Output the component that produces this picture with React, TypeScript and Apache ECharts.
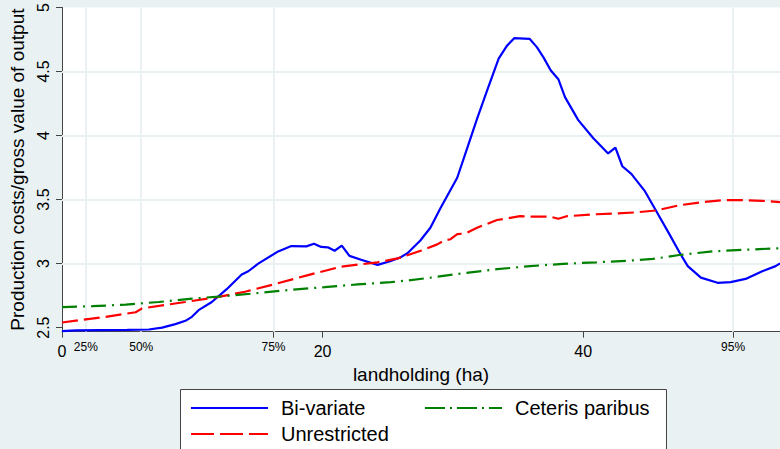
import React, { useEffect, useRef } from "react";
import * as echarts from "echarts";

// ---- data ----
const bivX = [0, 1.07, 3.0, 5.0, 6.66, 7.68, 8.7, 9.47, 9.97, 10.48, 11.5, 12.64, 13.79, 14.3, 15.06, 16.59, 17.6, 18.75, 19.34, 19.89, 20.4, 20.92, 21.47, 22.06, 22.95, 24.22, 25.24, 26.0, 26.51, 27.5, 28.27, 29.03, 30.33, 31.09, 31.85, 32.62, 33.51, 34.14, 34.7, 35.88, 36.44, 36.95, 37.5, 38.09, 38.6, 39.62, 40.76, 41.91, 42.47, 43.0, 43.69, 44.7, 45.6, 46.61, 47.37, 48.02, 49.03, 50.31, 51.31, 52.46, 53.74, 54.76, 55.1];
const bivY = [2.472, 2.478, 2.48, 2.482, 2.485, 2.5, 2.527, 2.553, 2.584, 2.636, 2.7, 2.8, 2.915, 2.94, 3.0, 3.095, 3.137, 3.134, 3.155, 3.13, 3.127, 3.1, 3.14, 3.06, 3.03, 2.99, 3.02, 3.05, 3.08, 3.18, 3.28, 3.43, 3.67, 3.9, 4.13, 4.35, 4.6, 4.7, 4.76, 4.755, 4.69, 4.61, 4.51, 4.44, 4.3, 4.12, 3.98, 3.86, 3.905, 3.76, 3.7, 3.57, 3.41, 3.23, 3.09, 2.98, 2.89, 2.85, 2.855, 2.88, 2.94, 2.98, 3.0];

const unrX = [0, 3.36, 5.65, 6.15, 9.47, 12.01, 14.05, 16.34, 18.88, 21.42, 24.22, 25.75, 27.53, 28.8, 29.31, 29.82, 30.33, 30.96, 31.85, 33.38, 35.16, 35.92, 37.45, 38.09, 38.73, 41.02, 42.29, 44.07, 45.6, 47.37, 49.16, 50.69, 52.21, 53.74, 55.1];
const unrY = [2.54, 2.584, 2.62, 2.65, 2.7, 2.74, 2.78, 2.84, 2.91, 2.976, 3.01, 3.04, 3.1, 3.15, 3.18, 3.19, 3.23, 3.235, 3.28, 3.34, 3.37, 3.367, 3.367, 3.35, 3.37, 3.385, 3.39, 3.4, 3.415, 3.455, 3.48, 3.495, 3.495, 3.49, 3.48];

const cetX = [0, 2.34, 4.89, 7.43, 9.97, 12.52, 15.06, 17.6, 20.15, 22.69, 25.24, 26.51, 28.29, 30.84, 33.38, 35.92, 38.47, 41.02, 43.56, 45.34, 47.37, 49.91, 52.46, 55.1];
const cetY = [2.66, 2.667, 2.68, 2.7, 2.726, 2.746, 2.77, 2.796, 2.816, 2.837, 2.855, 2.868, 2.89, 2.925, 2.956, 2.98, 2.998, 3.01, 3.023, 3.036, 3.067, 3.095, 3.108, 3.12];

const xTicks = [0, 20, 40];
const yTicks = [2.5, 3, 3.5, 4, 4.5, 5];
const yGridValues = [3, 3.5, 4, 4.5];
const pctValues = [1.83, 6.08, 16.23, 51.5];
const pctLabels = ["25%", "50%", "75%", "95%"];
const pctTickValues = [16.23, 51.5];

const seriesNames = ["Bi-variate", "Unrestricted", "Ceteris paribus"];

const FONT = "'Liberation Sans', Arial, sans-serif";
const BG = "#E9F1F2";
const GRIDC = "#E9F1F2";

const zip = (xs: number[], ys: number[]) => xs.map((x, i) => [x, ys[i]]);

const hiddenSymbol = { color: "rgba(0,0,0,0)", borderWidth: 0, opacity: 0 };

export default function App() {
  const ref = useRef<HTMLDivElement>(null);
  useEffect(() => {
    if (!ref.current) return;
    const chart = echarts.init(ref.current, undefined, { renderer: "svg" });
    const xMin = 0, xMax = 55.1, yMin = 2.468, yMax = 5;
    const legendText = { fontSize: 20, color: "#000", fontFamily: FONT, lineHeight: 20, padding: [0, 0, 0, 8] };
    chart.setOption({
      animation: false,
      backgroundColor: BG,
      textStyle: { fontFamily: FONT },
      grid: {
        left: 62,
        top: 5,
        right: -5,
        height: 326.7,
        show: true,
        backgroundColor: "#ffffff",
        borderWidth: 0,
      },
      xAxis: [
        {
          type: "value",
          min: xMin,
          max: xMax,
          position: "bottom",
          name: "landholding (ha)",
          nameLocation: "middle",
          nameGap: 27,
          nameTextStyle: { fontSize: 19, color: "#000", fontFamily: FONT },
          axisLine: { show: true, lineStyle: { color: "#444", width: 1 } },
          axisTick: { show: true, length: 6, lineStyle: { color: "#444" }, customValues: xTicks },
          axisLabel: { fontSize: 16, color: "#000", margin: 12, customValues: xTicks, fontFamily: FONT },
          splitLine: { show: false },
        },
        {
          type: "value",
          min: xMin,
          max: xMax,
          position: "bottom",
          axisLine: { show: false },
          axisTick: { show: true, length: 6, lineStyle: { color: "#444" }, customValues: pctTickValues },
          axisLabel: {
            fontSize: 12,
            color: "#000",
            margin: 9,
            customValues: pctValues,
            fontFamily: FONT,
            formatter: (v: number) => {
              const i = pctValues.findIndex((p) => Math.abs(p - v) < 1e-6);
              return i >= 0 ? pctLabels[i] : "";
            },
          },
          splitLine: { show: false },
        },
      ],
      yAxis: {
        type: "value",
        min: yMin,
        max: yMax,
        name: "Production costs/gross value of output",
        nameLocation: "middle",
        nameGap: 30,
        nameTextStyle: { fontSize: 19, color: "#000", fontFamily: FONT },
        axisLine: { show: true, lineStyle: { color: "#444", width: 1 } },
        axisTick: { show: true, length: 6, lineStyle: { color: "#444" }, customValues: yTicks },
        axisLabel: { fontSize: 16, color: "#000", rotate: 90, margin: 11, customValues: yTicks, fontFamily: FONT },
        splitLine: { show: false },
      },
      legend: [
        {
          orient: "vertical",
          left: 190,
          top: 398,
          padding: 0,
          itemGap: 6,
          itemWidth: 77,
          itemHeight: 14,
          z: 5,
          selectedMode: false,
          itemStyle: hiddenSymbol,
          textStyle: legendText,
          data: [
            { name: "Bi-variate", itemStyle: hiddenSymbol },
            { name: "Unrestricted", itemStyle: hiddenSymbol, lineStyle: { type: [23, 6] } },
          ],
        },
        {
          orient: "vertical",
          left: 424,
          top: 398,
          padding: 0,
          itemGap: 6,
          itemWidth: 77,
          itemHeight: 14,
          z: 5,
          selectedMode: false,
          itemStyle: hiddenSymbol,
          textStyle: legendText,
          data: [{ name: "Ceteris paribus", itemStyle: hiddenSymbol, lineStyle: { type: [20, 5, 2, 5] } }],
        },
      ],
      graphic: [
        {
          type: "rect",
          z: 1,
          shape: { x: 180.5, y: 389.5, width: 486, height: 80 },
          style: { fill: "#ffffff", stroke: "#444", lineWidth: 1 },
        },
      ],
      series: [
        {
          type: "line",
          name: "_grid",
          data: [],
          z: 1,
          silent: true,
          markLine: {
            z: 1,
            silent: true,
            symbol: ["none", "none"],
            label: { show: false },
            lineStyle: { color: GRIDC, width: 2, type: "solid" },
            data: [
              ...pctValues.map((v) => ({ xAxis: v })),
              ...yGridValues.map((v) => ({ yAxis: v })),
            ],
          },
        },
        {
          type: "line",
          name: seriesNames[0],
          data: zip(bivX, bivY),
          showSymbol: false,
          symbol: "none",
          z: 3,
          lineStyle: { color: "#0000FF", width: 2.2, type: "solid" },
          itemStyle: { color: "#0000FF" },
        },
        {
          type: "line",
          name: seriesNames[1],
          data: zip(unrX, unrY),
          showSymbol: false,
          symbol: "none",
          z: 3,
          lineStyle: { color: "#FF0000", width: 2.2, type: [16, 6] },
          itemStyle: { color: "#FF0000" },
        },
        {
          type: "line",
          name: seriesNames[2],
          data: zip(cetX, cetY),
          showSymbol: false,
          symbol: "none",
          z: 3,
          lineStyle: { color: "#008000", width: 2.2, type: [15, 6, 2, 6] },
          itemStyle: { color: "#008000" },
        },
      ],
    });
    return () => chart.dispose();
  }, []);
  return (
    <div
      ref={ref}
      style={{ position: "fixed", left: 0, top: 0, width: 780, height: 449 }}
    />
  );
}
